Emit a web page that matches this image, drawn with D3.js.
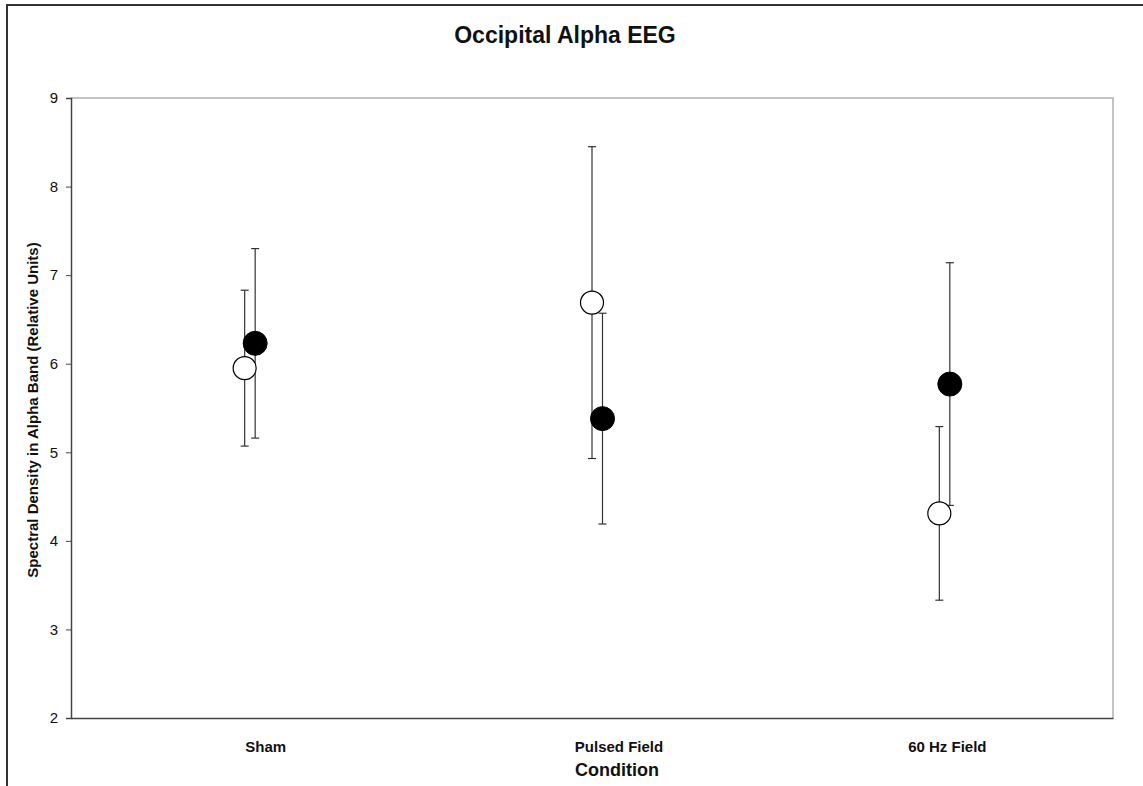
<!DOCTYPE html>
<html>
<head>
<meta charset="utf-8">
<script src="https://cdn.jsdelivr.net/npm/d3@7"></script>
<style>
  html, body { margin: 0; padding: 0; background: #fff; }
  svg { display: block; font-family: "Liberation Sans", Arial, sans-serif; }
</style>
</head>
<body>
<svg id="chart" width="1143" height="786"></svg>
<script>
// ---- data ----
const categories = ["Sham", "Pulsed Field", "60 Hz Field"];
const openMeans = [5.95, 6.69, 4.31];
const openErrors = [0.88, 1.76, 0.98];
const filledMeans = [6.23, 5.38, 5.77];
const filledErrors = [1.07, 1.19, 1.37];
const yTickValues = [2, 3, 4, 5, 6, 7, 8, 9];
const titleText = "Occipital Alpha EEG";
const yAxisTitle = "Spectral Density in Alpha Band (Relative Units)";
const xAxisTitle = "Condition";

// ---- layout ----
const svg = d3.select("#chart");
const plot = { left: 71, right: 1113, top: 98, bottom: 718 };

const x = d3.scaleBand().domain(categories).range([plot.left, plot.right]).padding(0);
const y = d3.scaleLinear().domain([2, 9]).range([plot.bottom, plot.top]);
const filledOffset = 10.5;
const labelShift = { "Sham": 21, "Pulsed Field": 27, "60 Hz Field": 8 };

// outer frame
svg.append("rect")
  .attr("x", 7).attr("y", 5).attr("width", 1150).attr("height", 800)
  .attr("fill", "none").attr("stroke", "#333").attr("stroke-width", 2);

// plot area border (top/right light gray)
svg.append("path")
  .attr("d", `M${plot.left},${plot.top}H${plot.right}V${plot.bottom}`)
  .attr("fill", "none").attr("stroke", "#b0b0b0").attr("stroke-width", 1.5);

// y axis
const yAxis = d3.axisLeft(y).tickValues(yTickValues).tickSize(5).tickPadding(8).tickFormat(d3.format("d"));
const gy = svg.append("g").attr("transform", `translate(${plot.left},0)`).call(yAxis);
gy.select(".domain").attr("stroke", "#444").attr("stroke-width", 1.5);
gy.selectAll(".tick line").attr("stroke", "#444");
gy.selectAll(".tick text").attr("font-size", 15).attr("fill", "#111").attr("font-family", "Liberation Sans, Arial, sans-serif");

// x axis
const xAxis = d3.axisBottom(x).tickSize(0).tickPadding(0);
const gx = svg.append("g").attr("transform", `translate(0,${plot.bottom})`).call(xAxis);
gx.select(".domain").attr("stroke", "#444").attr("stroke-width", 1.5);
gx.selectAll(".tick text")
  .attr("font-size", 15).attr("font-weight", "bold").attr("fill", "#111")
  .attr("font-family", "Liberation Sans, Arial, sans-serif")
  .attr("dy", null).attr("y", 34)
  .attr("x", d => labelShift[d]);

// titles
svg.append("text")
  .attr("x", 565).attr("y", 43).attr("text-anchor", "middle")
  .attr("font-size", 23).attr("font-weight", "bold").attr("fill", "#111")
  .text(titleText);

svg.append("text")
  .attr("transform", "translate(38,410) rotate(-90)")
  .attr("text-anchor", "middle")
  .attr("font-size", 15).attr("font-weight", "bold").attr("fill", "#111")
  .text(yAxisTitle);

svg.append("text")
  .attr("x", 617).attr("y", 776).attr("text-anchor", "middle")
  .attr("font-size", 18).attr("font-weight", "bold").attr("fill", "#111")
  .text(xAxisTitle);

// series
const cx = (c) => x(c) + x.bandwidth() / 2;
const openData = categories.map((c, i) => ({ c, m: openMeans[i], e: openErrors[i], px: cx(c) }));
const filledData = categories.map((c, i) => ({ c, m: filledMeans[i], e: filledErrors[i], px: cx(c) + filledOffset }));

function errorBars(data) {
  const g = svg.append("g").attr("stroke", "#333").attr("stroke-width", 1.2);
  g.selectAll("line.v").data(data).join("line").attr("class", "v")
    .attr("x1", d => d.px).attr("x2", d => d.px)
    .attr("y1", d => y(d.m + d.e)).attr("y2", d => y(d.m - d.e));
  g.selectAll("line.t").data(data).join("line").attr("class", "t")
    .attr("x1", d => d.px - 4).attr("x2", d => d.px + 4)
    .attr("y1", d => y(d.m + d.e)).attr("y2", d => y(d.m + d.e));
  g.selectAll("line.b").data(data).join("line").attr("class", "b")
    .attr("x1", d => d.px - 4).attr("x2", d => d.px + 4)
    .attr("y1", d => y(d.m - d.e)).attr("y2", d => y(d.m - d.e));
}
errorBars(openData);
errorBars(filledData);

svg.append("g").selectAll("circle").data(openData).join("circle")
  .attr("cx", d => d.px).attr("cy", d => y(d.m)).attr("r", 11.5)
  .attr("fill", "#fff").attr("stroke", "#000").attr("stroke-width", 1.2);

svg.append("g").selectAll("circle").data(filledData).join("circle")
  .attr("cx", d => d.px).attr("cy", d => y(d.m)).attr("r", 12)
  .attr("fill", "#000").attr("stroke", "#000").attr("stroke-width", 1);
</script>
</body>
</html>
